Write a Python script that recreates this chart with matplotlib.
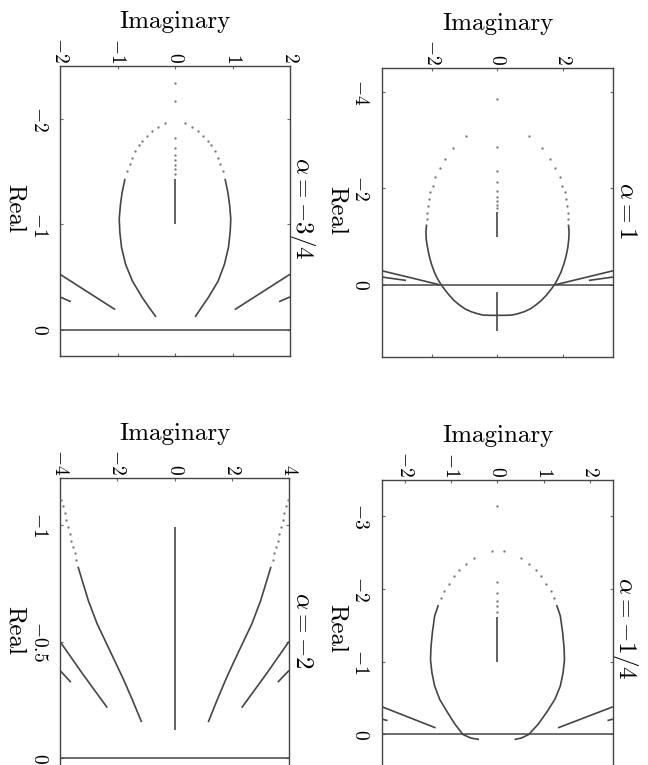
import matplotlib
matplotlib.use('Agg')
import matplotlib.pyplot as plt

plt.rcParams['mathtext.fontset'] = 'cm'
plt.rcParams['font.family'] = ['cmr10', 'DejaVu Serif']
plt.rcParams['axes.unicode_minus'] = True

# ---------------- data (Imaginary, Real) ----------------
titles = [r'$\alpha = -3/4$', r'$\alpha = 1$', r'$\alpha = -2$', r'$\alpha = -1/4$']

# Panel A : alpha = -3/4
A_xlim = (-2, 2); A_ylim = (-2.5, 0.25)
A_xticks = [-2, -1, 0, 1, 2]; A_yticks = [-2, -1, 0]
A_ytick_labels = ['$-2$', '$-1$', '$0$']
A_xtick_labels = ['$-2$', '$-1$', '$0$', '$1$', '$2$']
A_loopL_im = [-0.87, -0.92, -0.95, -0.97, -0.96, -0.93, -0.86, -0.74, -0.57, -0.45, -0.33]
A_loopL_re = [-1.43, -1.30, -1.18, -1.05, -0.93, -0.78, -0.62, -0.46, -0.305, -0.21, -0.12]
A_loopR_im = [0.87, 0.92, 0.95, 0.97, 0.96, 0.93, 0.86, 0.75, 0.58, 0.46, 0.35]
A_loopR_re = [-1.43, -1.30, -1.18, -1.05, -0.93, -0.78, -0.62, -0.46, -0.305, -0.21, -0.12]
A_dots_im = [-0.18, -0.30, -0.40, -0.49, -0.57, -0.63, -0.69, -0.74, -0.79, -0.83,
             0.18, 0.30, 0.40, 0.49, 0.57, 0.63, 0.69, 0.74, 0.79, 0.83,
             0, 0, 0, 0, 0, 0, 0, 0, 0]
A_dots_re = [-1.96, -1.92, -1.88, -1.84, -1.79, -1.75, -1.69, -1.63, -1.57, -1.50,
             -1.96, -1.92, -1.88, -1.84, -1.79, -1.75, -1.69, -1.63, -1.57, -1.50,
             -2.34, -2.17, -1.82, -1.72, -1.66, -1.61, -1.56, -1.52, -1.48]
A_axis_im = [0, 0]; A_axis_re = [-1.43, -1.0]
A_out1L_im = [-2.0, -1.04]; A_out1L_re = [-0.525, -0.19]
A_out1R_im = [2.0, 1.04];   A_out1R_re = [-0.525, -0.19]
A_out2L_im = [-2.0, -1.81]; A_out2L_re = [-0.31, -0.265]
A_out2R_im = [2.0, 1.81];   A_out2R_re = [-0.31, -0.265]

# Panel B : alpha = 1
B_xlim = (-3.55, 3.55); B_ylim = (-4.5, 1.5)
B_xticks = [-2, 0, 2]; B_yticks = [-4, -2, 0]
B_ytick_labels = ['$-4$', '$-2$', '$0$']
B_xtick_labels = ['$-2$', '$0$', '$2$']
B_loopL_im = [-2.18, -2.20, -2.19, -2.15, -2.10, -2.03, -1.94, -1.84, -1.73, -1.61, -1.48,
              -1.33, -1.17, -1.00, -0.81, -0.62, -0.45, -0.20, 0.0]
B_loopL_re = [-1.25, -1.10, -0.94, -0.77, -0.60, -0.43, -0.26, -0.12, 0.0, 0.11, 0.22,
              0.33, 0.42, 0.50, 0.56, 0.60, 0.63, 0.635, 0.635]
B_loopR_im = [2.18, 2.20, 2.19, 2.16, 2.11, 2.04, 1.95, 1.85, 1.75, 1.63, 1.50,
              1.34, 1.18, 1.01, 0.82, 0.63, 0.45, 0.20, 0.0]
B_loopR_re = [-1.25, -1.10, -0.94, -0.77, -0.60, -0.43, -0.26, -0.12, 0.0, 0.11, 0.22,
              0.33, 0.42, 0.50, 0.56, 0.60, 0.63, 0.635, 0.635]
B_dots_im = [-0.96, -1.37, -1.61, -1.78, -1.91, -1.99, -2.06, -2.11, -2.14, -2.16, -2.18,
             0.96, 1.37, 1.61, 1.78, 1.91, 1.99, 2.06, 2.11, 2.14, 2.16, 2.18,
             0, 0, 0, 0, 0, 0, 0, 0, 0]
B_dots_re = [-3.08, -2.83, -2.61, -2.42, -2.23, -2.06, -1.92, -1.77, -1.63, -1.49, -1.37,
             -3.08, -2.83, -2.61, -2.42, -2.23, -2.06, -1.92, -1.77, -1.63, -1.49, -1.37,
             -3.85, -2.85, -2.36, -2.14, -1.95, -1.83, -1.74, -1.66, -1.59]
B_axis_im = [0, 0]; B_axis_re = [-1.52, -1.0]
B_cross_im = [0, 0]; B_cross_re = [0.16, 0.97]
B_out1L_im = [-3.55, -1.78]; B_out1L_re = [-0.29, 0.0]
B_out1R_im = [3.55, 1.78];   B_out1R_re = [-0.29, 0.0]
B_out2L_im = [-3.55, -2.81]; B_out2L_re = [-0.16, -0.09]
B_out2R_im = [3.55, 2.81];   B_out2R_re = [-0.16, -0.09]

# Panel C : alpha = -2
C_xlim = (-4, 4); C_ylim = (-1.2, 0.05)
C_xticks = [-4, -2, 0, 2, 4]; C_yticks = [-1, -0.5, 0]
C_ytick_labels = ['$-1$', '$-0.5$', '$0$']
C_xtick_labels = ['$-4$', '$-2$', '$0$', '$2$', '$4$']
C_mainL_im = [-3.37, -3.01, -2.70, -2.37, -2.08, -1.79, -1.47, -1.15]
C_mainL_re = [-0.82, -0.675, -0.575, -0.49, -0.415, -0.34, -0.25, -0.155]
C_mainR_im = [3.37, 3.01, 2.70, 2.37, 2.08, 1.80, 1.49, 1.18]
C_mainR_re = [-0.82, -0.675, -0.575, -0.49, -0.415, -0.34, -0.25, -0.155]
C_dots_im = [-3.96, -3.90, -3.84, -3.78, -3.72, -3.66, -3.61, -3.55, -3.49, -3.43,
             3.96, 3.90, 3.84, 3.78, 3.72, 3.66, 3.61, 3.55, 3.49, 3.43]
C_dots_re = [-1.105, -1.08, -1.05, -1.02, -0.99, -0.96, -0.93, -0.905, -0.88, -0.85,
             -1.105, -1.08, -1.05, -1.02, -0.99, -0.96, -0.93, -0.905, -0.88, -0.85]
C_axis_im = [0, 0]; C_axis_re = [-0.99, -0.12]
C_out1L_im = [-4.0, -3.23, -2.35]; C_out1L_re = [-0.50, -0.365, -0.217]
C_out1R_im = [4.0, 3.23, 2.35];    C_out1R_re = [-0.50, -0.365, -0.217]
C_out2L_im = [-4.0, -3.62]; C_out2L_re = [-0.376, -0.326]
C_out2R_im = [4.0, 3.61];   C_out2R_re = [-0.376, -0.326]

# Panel D : alpha = -1/4
D_xlim = (-2.5, 2.5); D_ylim = (-3.5, 0.49)
D_xticks = [-2, -1, 0, 1, 2]; D_yticks = [-3, -2, -1, 0]
D_ytick_labels = ['$-3$', '$-2$', '$-1$', '$0$']
D_xtick_labels = ['$-2$', '$-1$', '$0$', '$1$', '$2$']
D_loopL_im = [-1.28, -1.36, -1.41, -1.44, -1.45, -1.42, -1.36, -1.25, -1.08, -0.92, -0.75, -0.58, -0.40]
D_loopL_re = [-1.78, -1.63, -1.40, -1.20, -1.03, -0.85, -0.665, -0.48, -0.30, -0.14, 0.0, 0.05, 0.07]
D_loopR_im = [1.28, 1.36, 1.41, 1.44, 1.45, 1.42, 1.36, 1.24, 1.06, 0.88, 0.68, 0.52, 0.37]
D_loopR_re = [-1.78, -1.63, -1.40, -1.20, -1.03, -0.85, -0.665, -0.48, -0.30, -0.14, 0.0, 0.05, 0.07]
D_dots_im = [-0.12, -0.50, -0.69, -0.84, -0.95, -1.06, -1.15, -1.22,
             0.13, 0.51, 0.69, 0.84, 0.95, 1.06, 1.15, 1.22,
             0, 0, 0, 0, 0, 0]
D_dots_re = [-2.52, -2.43, -2.35, -2.26, -2.18, -2.07, -1.97, -1.88,
             -2.52, -2.43, -2.35, -2.26, -2.18, -2.07, -1.97, -1.88,
             -3.14, -2.10, -1.95, -1.84, -1.76, -1.69]
D_axis_im = [0, 0]; D_axis_re = [-1.62, -1.0]
D_out1L_im = [-2.5, -1.34]; D_out1L_re = [-0.38, -0.09]
D_out1R_im = [2.5, 1.31];   D_out1R_re = [-0.38, -0.09]
D_out2L_im = [-2.5, -2.38]; D_out2L_re = [-0.21, -0.19]
D_out2R_im = [2.5, 2.38];   D_out2R_re = [-0.21, -0.19]

# ---------------- figure ----------------
W, H = 648, 765
fig = plt.figure(figsize=(W / 100, H / 100), dpi=100)
fig.patch.set_facecolor('white')

# axes boxes in pixels: left, right, top, bottom
boxes = [(60, 290, 66, 356), (382, 613, 68, 357), (60, 289, 478, 770), (382, 613, 480, 770)]
# vertical pixel centre of the "Real" label and the title
label_y = [208, 210, 630, 628]

panels = [
    dict(xlim=A_xlim, ylim=A_ylim, xt=A_xticks, yt=A_yticks, xl=A_xtick_labels, yl=A_ytick_labels,
         lines=[(A_loopL_im, A_loopL_re), (A_loopR_im, A_loopR_re), (A_axis_im, A_axis_re),
                (A_out1L_im, A_out1L_re), (A_out1R_im, A_out1R_re),
                (A_out2L_im, A_out2L_re), (A_out2R_im, A_out2R_re)],
         dots=(A_dots_im, A_dots_re)),
    dict(xlim=B_xlim, ylim=B_ylim, xt=B_xticks, yt=B_yticks, xl=B_xtick_labels, yl=B_ytick_labels,
         lines=[(B_loopL_im, B_loopL_re), (B_loopR_im, B_loopR_re), (B_axis_im, B_axis_re),
                (B_cross_im, B_cross_re),
                (B_out1L_im, B_out1L_re), (B_out1R_im, B_out1R_re),
                (B_out2L_im, B_out2L_re), (B_out2R_im, B_out2R_re)],
         dots=(B_dots_im, B_dots_re)),
    dict(xlim=C_xlim, ylim=C_ylim, xt=C_xticks, yt=C_yticks, xl=C_xtick_labels, yl=C_ytick_labels,
         lines=[(C_mainL_im, C_mainL_re), (C_mainR_im, C_mainR_re), (C_axis_im, C_axis_re),
                (C_out1L_im, C_out1L_re), (C_out1R_im, C_out1R_re),
                (C_out2L_im, C_out2L_re), (C_out2R_im, C_out2R_re)],
         dots=(C_dots_im, C_dots_re)),
    dict(xlim=D_xlim, ylim=D_ylim, xt=D_xticks, yt=D_yticks, xl=D_xtick_labels, yl=D_ytick_labels,
         lines=[(D_loopL_im, D_loopL_re), (D_loopR_im, D_loopR_re), (D_axis_im, D_axis_re),
                (D_out1L_im, D_out1L_re), (D_out1R_im, D_out1R_re),
                (D_out2L_im, D_out2L_re), (D_out2R_im, D_out2R_re)],
         dots=(D_dots_im, D_dots_re)),
]

dark = '#454545'
for (l, r, t, b), p, title, ly in zip(boxes, panels, titles, label_y):
    ax = fig.add_axes([l / W, 1 - b / H, (r - l) / W, (b - t) / H])
    ax.set_xlim(*p['xlim'])
    ax.set_ylim(p['ylim'][1], p['ylim'][0])  # Real increases downward
    for s in ax.spines.values():
        s.set_color(dark)
        s.set_linewidth(1.0)
    ax.axhline(0, color=dark, lw=1.1, zorder=3)
    for xs, ys in p['lines']:
        ax.plot(xs, ys, color=dark, lw=1.2, solid_capstyle='butt',
                solid_joinstyle='round', zorder=4)
    ax.plot(p['dots'][0], p['dots'][1], ls='none', marker='o', ms=1.7,
            mec='none', mfc='#7a7a7a', zorder=4)

    ax.set_xticks(p['xt'])
    ax.set_xticklabels(p['xl'], rotation=-90, fontsize=14)
    ax.set_yticks(p['yt'])
    ax.set_yticklabels(p['yl'], rotation=-90, fontsize=14, va='center')
    ax.xaxis.tick_top()
    ax.tick_params(axis='both', which='both', direction='in', length=2.5, width=0.8,
                   color='#666666', top=True, bottom=True, left=True, right=True,
                   labeltop=True, labelbottom=False, labelleft=True, labelright=False)
    ax.tick_params(axis='x', pad=2)
    ax.tick_params(axis='y', pad=9)

    wpx, hpx = r - l, b - t
    yfrac = 1 - (ly - t) / hpx
    ax.text(0.5, 1 + 44 / hpx, 'Imaginary', transform=ax.transAxes,
            ha='center', va='center', fontsize=18)
    ax.text(-45 / wpx, yfrac, 'Real', transform=ax.transAxes, rotation=-90,
            ha='center', va='center', fontsize=18)
    ax.text(1 + 13 / wpx, yfrac, title, transform=ax.transAxes, rotation=-90,
            ha='center', va='center', fontsize=18)

fig.savefig('out.png', dpi=100, facecolor='white')
